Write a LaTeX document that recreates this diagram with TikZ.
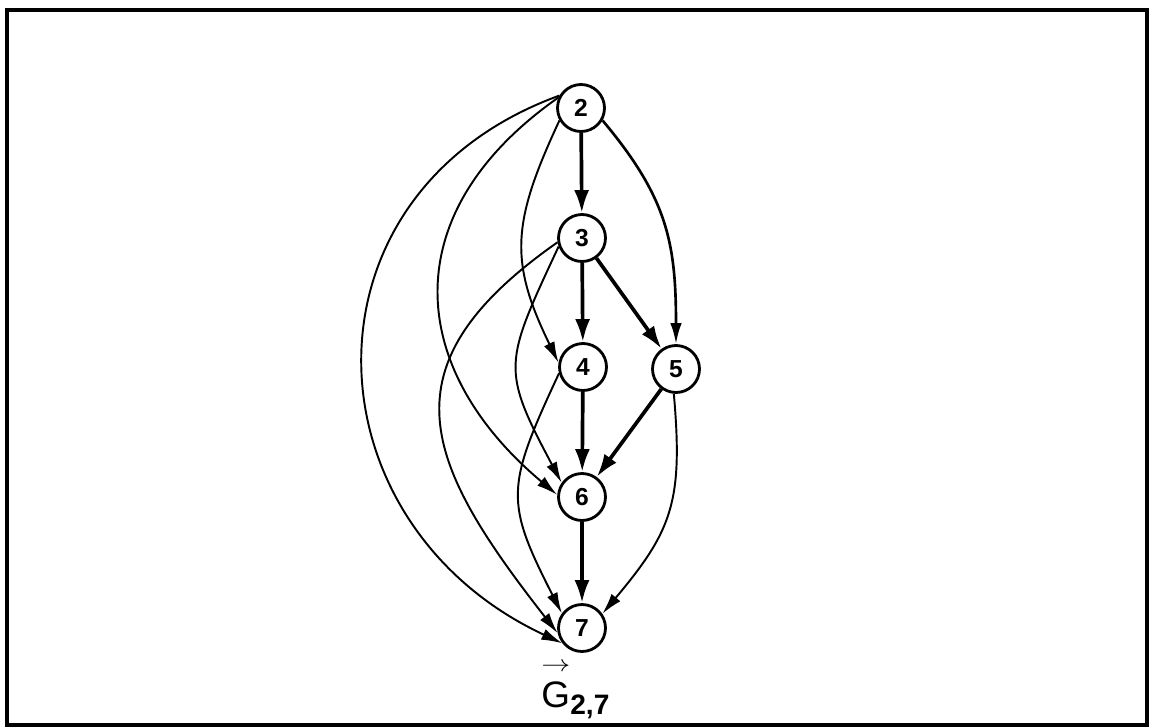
\documentclass[tikz,border=0pt]{standalone}
\usepackage{fontspec}
\setmainfont{Liberation Sans}
\usetikzlibrary{arrows.meta}
\begin{document}
\begin{tikzpicture}[x=0.02cm, y=0.02cm,
  vertex/.style={draw, circle, line width=1.6pt, minimum size=0.94cm, inner sep=0pt, font=\fontsize{14}{16}\selectfont\bfseries},
  arc/.style={line width=1.1pt, -{Latex[length=0.42cm,width=0.23cm]}},
  bold arc/.style={line width=2.1pt, -{Latex[length=0.46cm,width=0.3cm]}}]

\useasboundingbox (0,0) rectangle (1153,-727);
\draw[line width=1.8pt] (7,-10) rectangle (1147,-725);

\node[vertex] (two) at (581,-108) {2};

\node[vertex] (three) at (582,-238) {3};

\node[vertex] (four) at (583,-367) {4};

\node[vertex] (five) at (676,-369) {5};

\node[vertex] (six) at (582,-497) {6};

\node[vertex] (seven) at (582,-628) {7};

\node[anchor=base west, inner sep=0pt] (title) at (541,-707) {\fontsize{21}{24}\selectfont\ooalign{\hfil\raisebox{0.95em}{\resizebox{0.58cm}{0.17cm}{$\rightarrow$}}\hfil\cr G}\raisebox{-4pt}{\fontsize{16}{18}\selectfont\bfseries 2,7}};

\draw[bold arc] (two) -- (three);
\draw[bold arc] (three) -- (four);
\draw[bold arc] (three) -- (five);
\draw[bold arc] (four) -- (six);
\draw[bold arc] (five) -- (six);
\draw[bold arc] (six) -- (seven);
\draw[arc, line width=1.5pt] (two.-30) to[out=-50, in=90, looseness=1.1] (five.90);
\draw[arc] (two.210) to[out=245, in=116, looseness=1.19] (four.170);
\draw[arc] (two.155) to[out=215, in=140, looseness=1.28] (six.175);
\draw[arc] (two.150) to[out=200, in=155, looseness=1.33] (seven.218);
\draw[arc] (three.200) to[out=245, in=118, looseness=1.4] (six.145);
\draw[arc] (three.190) to[out=215, in=128, looseness=1.42] (seven.192);
\draw[arc] (four.195) to[out=245, in=117, looseness=1.34] (seven.144);
\draw[arc] (five.-95) to[out=-85, in=50, looseness=1.2] (seven.35);

\end{tikzpicture}
\end{document}
